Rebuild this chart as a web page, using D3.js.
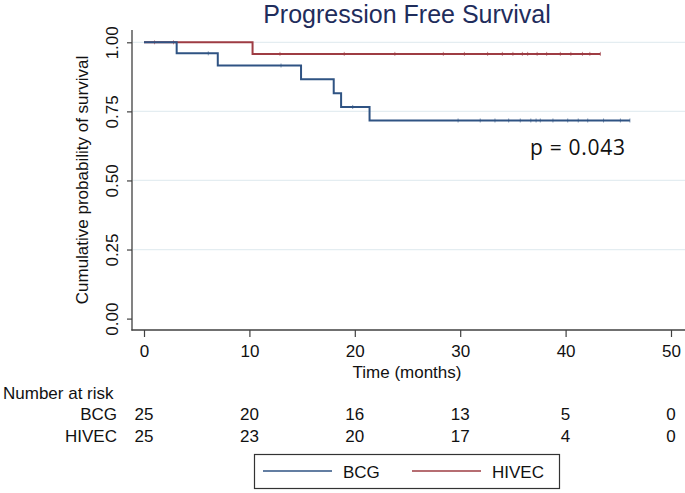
<!DOCTYPE html>
<html>
<head>
<meta charset="utf-8">
<script src="https://cdn.jsdelivr.net/npm/d3@7"></script>
<style>
  html, body { margin: 0; padding: 0; background: #fff; }
  svg { display: block; font-family: "Liberation Sans", Arial, sans-serif; }
</style>
</head>
<body>
<svg id="chart" width="685" height="493"></svg>
<script>
// ---- data ----
const xTicks = [0, 10, 20, 30, 40, 50];
const yTicks = [0, 0.25, 0.5, 0.75, 1.0];
const yTickLabels = ["0.00", "0.25", "0.50", "0.75", "1.00"];
const seriesNames = ["BCG", "HIVEC"];
// step points: [time, survival]
const bcgSteps = [[0, 1.0], [3.1, 0.96], [7.0, 0.916], [14.9, 0.866], [18.0, 0.816], [18.7, 0.766], [21.4, 0.717]];
const bcgEnd = 46.1;
const hivecSteps = [[0, 1.0], [10.3, 0.958]];
const hivecEnd = 43.3;
const bcgCensor = [6.1, 13.0, 19.8, 29.8, 31.9, 33.3, 34.6, 35.7, 36.7, 37.2, 37.6, 38.8, 40.2, 41.2, 42.1, 43.6, 45.2, 46.1];
const hivecCensor = [1.0, 2.8, 12.9, 19.0, 23.8, 28.4, 30.4, 32.6, 34.0, 35.0, 35.9, 36.4, 37.3, 38.2, 39.5, 40.5, 41.6, 42.3, 43.3];
const bcgRisk = [25, 20, 16, 13, 5, 0];
const hivecRisk = [25, 23, 20, 17, 4, 0];
const pText = "p = 0.043";

// ---- styles ----
const colBCG = "#2f5383";
const colHIVEC = "#9e3c43";
const axisCol = "#404040";
const gridCol = "#e4edf1";

const svg = d3.select("#chart");
const x = d3.scaleLinear().domain([0, 50]).range([144, 671]);
const y = d3.scaleLinear().domain([0, 1]).range([318.6, 42.3]);

// title
svg.append("text").attr("x", 407).attr("y", 23).attr("text-anchor", "middle")
  .attr("font-size", 25).attr("fill", "#1f2d5c").text("Progression Free Survival");

// gridlines
svg.append("g").selectAll("line").data(yTicks.filter(d => d > 0)).join("line")
  .attr("x1", 133).attr("x2", 685).attr("y1", d => y(d)).attr("y2", d => y(d))
  .attr("stroke", gridCol).attr("stroke-width", 1.2);

// y axis
const yAxis = d3.axisLeft(y).tickValues(yTicks).tickSize(5)
  .tickFormat((d, i) => yTickLabels[i]);
const gy = svg.append("g").attr("transform", "translate(132,0)").call(yAxis);
gy.select(".domain").remove();
gy.selectAll(".tick line").attr("stroke", axisCol).attr("stroke-width", 1.2);
gy.selectAll(".tick text").attr("font-size", 17).attr("fill", "#111")
  .attr("x", null).attr("dy", null)
  .attr("text-anchor", "middle")
  .attr("transform", "translate(-14,0) rotate(-90)");
svg.append("line").attr("x1", 132).attr("x2", 132).attr("y1", 30).attr("y2", 330.6)
  .attr("stroke", axisCol).attr("stroke-width", 1.3);

// x axis
const xAxis = d3.axisBottom(x).tickValues(xTicks).tickSize(7).tickFormat(d3.format("d"));
const gx = svg.append("g").attr("transform", "translate(0,330)").call(xAxis);
gx.select(".domain").remove();
gx.selectAll(".tick line").attr("stroke", axisCol).attr("stroke-width", 1.2);
gx.selectAll(".tick text").attr("font-size", 17).attr("fill", "#111").attr("y", 27).attr("dy", null);
svg.append("line").attr("x1", 131.4).attr("x2", 685).attr("y1", 330).attr("y2", 330)
  .attr("stroke", axisCol).attr("stroke-width", 1.3);

// axis titles
svg.append("text").attr("x", 407).attr("y", 378).attr("text-anchor", "middle")
  .attr("font-size", 17).attr("fill", "#111").text("Time (months)");
svg.append("text").attr("transform", "translate(88,180) rotate(-90)").attr("text-anchor", "middle")
  .attr("font-size", 17).attr("fill", "#111").text("Cumulative probability of survival");

// curves
function stepPts(steps, end) {
  const pts = steps.map(d => [d[0], d[1]]);
  pts.push([end, steps[steps.length - 1][1]]);
  return pts;
}
const line = d3.line().x(d => x(d[0])).y(d => y(d[1])).curve(d3.curveStepAfter);
function survAt(steps, t) {
  let v = steps[0][1];
  for (const s of steps) if (s[0] <= t) v = s[1];
  return v;
}
const curves = [
  { name: "HIVEC", steps: hivecSteps, end: hivecEnd, cens: hivecCensor, col: colHIVEC },
  { name: "BCG", steps: bcgSteps, end: bcgEnd, cens: bcgCensor, col: colBCG }
];
curves.forEach(c => {
  svg.append("path").datum(stepPts(c.steps, c.end)).attr("d", line)
    .attr("fill", "none").attr("stroke", c.col).attr("stroke-width", 2);
  svg.append("g").selectAll("line").data(c.cens).join("line")
    .attr("x1", d => x(d)).attr("x2", d => x(d))
    .attr("y1", d => y(survAt(c.steps, d)) - 2).attr("y2", d => y(survAt(c.steps, d)) + 2)
    .attr("stroke", c.col).attr("stroke-width", 1).attr("opacity", 0.6);
});

// p-value
svg.append("text").attr("x", 530).attr("y", 155).attr("font-family", "'Open Sans', 'Noto Sans', sans-serif")
  .attr("font-size", 21).attr("fill", "#111").attr("textLength", 95).text(pText);

// number at risk
svg.append("text").attr("x", 3).attr("y", 399).attr("font-size", 17).attr("fill", "#111").text("Number at risk");
const rows = [{ name: seriesNames[0], vals: bcgRisk, yb: 420 }, { name: seriesNames[1], vals: hivecRisk, yb: 442 }];
rows.forEach(r => {
  svg.append("text").attr("x", 117).attr("y", r.yb).attr("text-anchor", "end")
    .attr("font-size", 17).attr("fill", "#111").text(r.name);
  svg.append("g").selectAll("text").data(r.vals).join("text")
    .attr("x", (d, i) => x(xTicks[i])).attr("y", r.yb).attr("text-anchor", "middle")
    .attr("font-size", 17).attr("fill", "#111").text(d => d);
});

// legend
const lg = svg.append("g");
lg.append("rect").attr("x", 254.5).attr("y", 454.5).attr("width", 305).attr("height", 34)
  .attr("fill", "#fff").attr("stroke", "#333").attr("stroke-width", 1.2);
const legItems = [{ name: seriesNames[0], col: colBCG, x0: 263 }, { name: seriesNames[1], col: colHIVEC, x0: 412 }];
legItems.forEach(it => {
  lg.append("line").attr("x1", it.x0).attr("x2", it.x0 + 69).attr("y1", 471).attr("y2", 471)
    .attr("stroke", it.col).attr("stroke-width", 1.3);
  lg.append("text").attr("x", it.x0 + 80).attr("y", 478).attr("font-size", 17).attr("fill", "#111").text(it.name);
});
</script>
</body>
</html>
